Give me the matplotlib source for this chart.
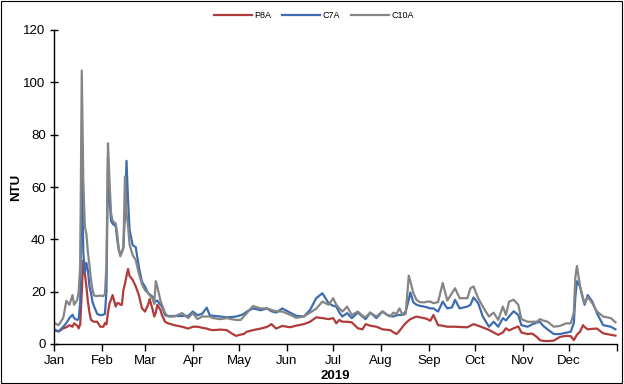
import matplotlib
matplotlib.use("Agg")
import matplotlib.pyplot as plt
from matplotlib.patches import Rectangle
import numpy as np
import pandas as pd

plt.rcParams['font.family'] = ['Liberation Sans', 'DejaVu Sans']

# ---- data (day of year offset from 2019-01-01) ----
days = [0, 3, 6, 8, 10, 12, 13, 15, 16, 17, 18, 19, 20, 21, 22, 23, 24, 25, 26, 28,
        30, 32, 33, 34, 35, 36, 37, 38, 40, 41, 42, 43, 44, 45, 46, 47, 48, 49, 51, 53,
        55, 57, 59, 61, 62, 64, 65, 66, 67, 69, 70, 72, 74, 78, 83, 87, 90, 93, 96, 99,
        101, 103, 108, 112, 115, 118, 121, 123, 125, 129, 134, 138, 141, 144, 148, 153,
        157, 162, 166, 170, 174, 178, 181, 183, 185, 187, 190, 193, 197, 200, 202, 205,
        209, 213, 216, 218, 220, 222, 224, 226, 228, 230, 231, 233, 235, 237, 240, 242,
        244, 246, 249, 252, 255, 258, 260, 263, 268, 270, 272, 275, 278, 282, 285, 288,
        291, 293, 295, 298, 301, 303, 307, 310, 313, 315, 317, 320, 324, 328, 332, 335,
        337, 338, 339, 341, 343, 344, 346, 349, 352, 354, 356, 361, 364]

p8a = [5.3, 4.8, 6.0, 6.4, 7.2, 6.6, 7.9, 7.0, 6.0, 7.5, 20.0, 32.0, 27.0, 22.0, 16.0, 12.0, 9.2, 8.8, 8.5, 8.5,
       6.6, 6.6, 8.0, 7.5, 12.0, 15.6, 17.0, 18.7, 14.3, 15.6, 15.6, 15.0, 15.0, 20.6, 23.0, 26.0, 28.7, 26.0, 24.5, 22.0,
       18.7, 13.7, 12.4, 15.0, 17.2, 13.0, 10.5, 12.0, 15.0, 13.0, 11.0, 8.5, 7.9, 7.2, 6.6, 5.9, 6.6, 6.6, 6.2, 5.9,
       5.5, 5.3, 5.5, 5.3, 4.1, 3.1, 3.6, 3.8, 4.7, 5.3, 5.9, 6.5, 7.6, 5.9, 6.9, 6.4,
       7.0, 7.6, 8.5, 10.2, 9.9, 9.5, 9.9, 7.9, 9.2, 8.5, 8.5, 8.3, 6.0, 5.6, 7.6, 7.0,
       6.6, 5.6, 5.4, 5.3, 4.5, 3.8, 5.0, 6.6, 8.0, 9.0, 9.5, 10.0, 10.5, 10.2, 9.9, 9.5,
       8.9, 11.1, 7.2, 7.0, 6.6, 6.6, 6.6, 6.5, 6.4, 7.0, 7.6, 7.0, 6.3, 5.4, 4.4, 3.5,
       4.4, 6.0, 5.2, 6.0, 6.7, 4.4, 3.8, 4.0, 2.7, 1.5, 1.2, 1.1, 1.3, 2.7, 3.1, 3.0,
       1.5, 2.5, 3.5, 4.7, 7.2, 6.5, 5.6, 5.8, 5.9, 5.0, 4.1, 3.5, 3.2]

c7a = [5.6, 4.8, 6.6, 8.0, 9.9, 11.2, 9.9, 9.2, 9.5, 16.0, 72.0, 35.0, 27.0, 31.0, 28.0, 22.0, 19.4, 16.0, 14.3, 11.5,
       11.0, 11.2, 11.5, 20.0, 71.0, 55.0, 47.0, 46.0, 45.0, 40.0, 36.0, 34.7, 35.0, 37.0, 50.0, 70.0, 55.0, 43.6, 37.8, 37.0,
       29.5, 23.8, 21.9, 19.4, 19.0, 18.0, 16.0, 16.3, 16.6, 15.0, 14.3, 11.0, 10.7, 10.7, 10.7, 10.7, 12.4, 11.0, 11.5, 13.9,
       11.0, 10.8, 10.5, 10.2, 10.3, 10.5, 11.0, 11.5, 12.4, 13.6, 12.9, 13.6, 12.5, 12.0, 13.6, 12.0,
       10.8, 10.5, 13.0, 17.5, 19.4, 15.6, 14.6, 14.3, 12.0, 10.5, 11.8, 9.9, 12.0, 10.5, 9.5, 12.0,
       9.9, 12.4, 11.1, 10.8, 10.5, 11.0, 11.1, 11.1, 12.4, 17.0, 19.7, 15.9, 15.0, 14.6, 14.3, 14.0,
       13.6, 13.6, 12.4, 16.2, 13.6, 14.0, 16.9, 13.6, 14.3, 15.0, 17.8, 15.6, 10.5, 6.6, 8.5, 6.6,
       9.9, 9.0, 10.5, 12.5, 11.1, 7.2, 6.6, 7.5, 8.2, 8.5, 7.0, 5.6, 3.8, 3.8, 4.3, 4.7,
       8.0, 18.0, 24.0, 22.0, 17.0, 15.0, 18.7, 16.2, 11.8, 9.5, 7.2, 6.6, 5.6]

c10a = [8.1, 7.2, 10.0, 16.5, 15.0, 18.7, 15.0, 16.8, 20.0, 30.0, 104.5, 62.0, 45.0, 42.0, 35.0, 30.0, 24.5, 20.6, 18.5, 18.3,
        18.5, 18.3, 19.0, 30.0, 76.7, 62.0, 50.0, 47.0, 46.0, 42.0, 36.0, 33.5, 35.0, 37.0, 64.0, 50.0, 45.0, 38.0, 34.0, 32.0,
        27.0, 22.9, 20.6, 19.5, 18.7, 17.2, 15.3, 24.0, 21.9, 16.6, 15.0, 11.8, 10.5, 10.5, 11.8, 9.9, 11.8, 9.5, 10.5, 10.5,
        10.5, 9.9, 9.5, 9.9, 9.5, 9.2, 9.2, 10.5, 11.8, 14.5, 13.6, 13.6, 13.0, 12.5, 12.4, 11.2,
        10.0, 10.5, 12.0, 13.5, 16.2, 15.0, 17.5, 15.0, 13.6, 12.4, 14.3, 11.1, 12.4, 10.8, 10.2, 12.0,
        10.5, 12.5, 11.1, 10.5, 12.0, 11.5, 13.6, 11.1, 11.5, 26.1, 24.0, 19.4, 16.9, 16.0, 15.9, 16.2,
        16.2, 15.6, 16.0, 23.3, 16.6, 19.4, 21.3, 17.5, 17.5, 21.3, 22.0, 17.5, 14.3, 10.5, 12.0, 9.2,
        14.3, 11.1, 16.2, 16.9, 15.0, 9.5, 8.5, 8.5, 8.5, 9.5, 9.0, 8.5, 6.6, 6.9, 7.9, 7.9,
        12.0, 25.5, 29.8, 22.3, 17.5, 15.6, 18.0, 15.6, 12.4, 11.5, 10.5, 9.9, 8.3]

series_names = ["P8A", "C7A", "C10A"]
series_colors = ["#B03B3A", "#3D6DB0", "#858585"]
month_labels = ["Jan", "Feb", "Mar", "Apr", "May", "Jun",
                "Jul", "Aug", "Sep", "Oct", "Nov", "Dec", ""]
year_label = "2019"
y_label = "NTU"

# ---- plot ----
start = pd.Timestamp("2019-01-01")
dates = start + pd.to_timedelta(days, unit="D")

fig = plt.figure(figsize=(6.24, 3.84), dpi=100)
ax = fig.add_axes([54 / 624, 40 / 384, (617 - 54) / 624, (344 - 30) / 384])

for vals, name, col in zip([p8a, c7a, c10a], series_names, series_colors):
    ax.plot(dates, vals, color=col, lw=1.6, label=name, solid_joinstyle="round")

ax.set_xlim(start, pd.Timestamp("2020-01-01"))
ax.set_ylim(0, 120)
ax.set_yticks(np.arange(0, 121, 20))
ticks = pd.date_range("2019-01-01", "2020-01-01", freq="MS")
ax.set_xticks(ticks)
ax.set_xticklabels(month_labels)

for s in ["top", "right"]:
    ax.spines[s].set_visible(False)
for s in ["left", "bottom"]:
    ax.spines[s].set_linewidth(1.0)
    ax.spines[s].set_color("black")

ax.tick_params(axis="y", direction="inout", length=6, width=1, labelsize=9.5, pad=3)
ax.tick_params(axis="x", direction="out", length=5, width=1, labelsize=9.5, pad=3)

ax.set_ylabel(y_label, fontsize=9.5, fontweight="bold", labelpad=1)
ax.set_xlabel(year_label, fontsize=9.5, fontweight="bold", labelpad=2)

fig.legend(loc="center", bbox_to_anchor=(0.503, 0.96), ncol=3, frameon=False,
           fontsize=6.5, handlelength=4.2, columnspacing=1.2, handletextpad=0.3)

fig.patches.append(Rectangle((0.001, 0.002), 0.996, 0.996, transform=fig.transFigure,
                             fill=False, edgecolor="black", lw=0.8))

fig.savefig("out.png", dpi=100)
